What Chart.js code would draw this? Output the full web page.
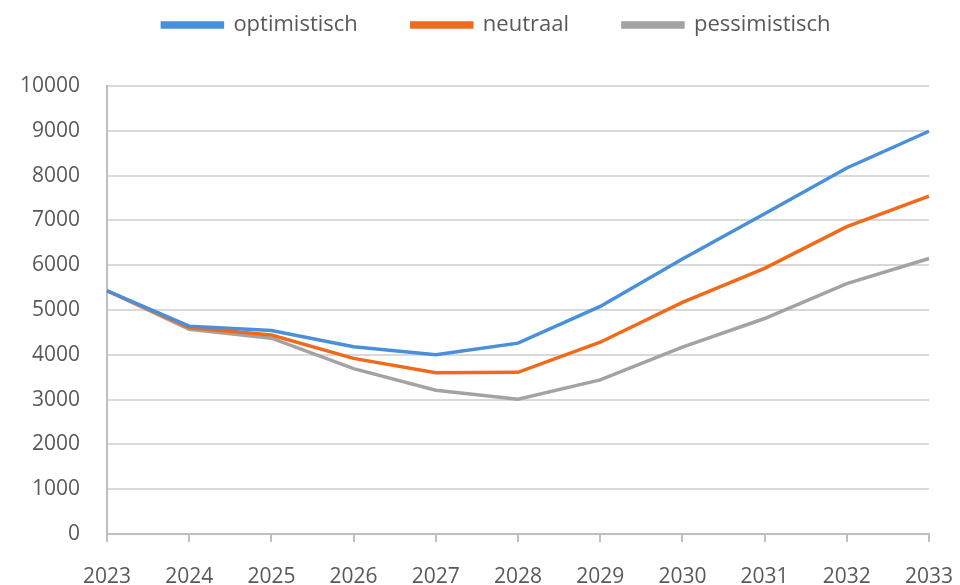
<!DOCTYPE html>
<html>
<head>
<meta charset="utf-8">
<script src="https://cdn.jsdelivr.net/npm/chart.js@4"></script>
<style>
  html, body { margin: 0; padding: 0; background: #fff; }
  #wrap { width: 960px; height: 585px; }
</style>
</head>
<body>
<div id="wrap"><canvas id="lineChart"></canvas></div>
<script>
const years = ["2023", "2024", "2025", "2026", "2027", "2028", "2029", "2030", "2031", "2032", "2033"];
const optimistisch = [5430, 4640, 4540, 4180, 4000, 4260, 5080, 6140, 7150, 8170, 8990];
const neutraal = [5430, 4610, 4440, 3920, 3600, 3610, 4280, 5170, 5930, 6860, 7540];
const pessimistisch = [5430, 4570, 4370, 3690, 3210, 3010, 3440, 4170, 4810, 5590, 6150];

const textColor = "#595959";
const gridColor = "#d9d9d9";

function line(label, data, color) {
    return {
        label: label,
        data: data,
        borderColor: color,
        backgroundColor: color,
        borderWidth: 3.5,
        pointRadius: 0,
        tension: 0,
        fill: false
    };
}

// legend sits above the canvas top (negative padding), its box is made taller
// so the plot starts where the original does, and it is nudged to the right
const legendTop = -40;
const legendShift = 32;
const legendHeight = {
    id: 'legendHeight',
    beforeInit(chart) {
        const fit = chart.legend.fit;
        chart.legend.fit = function () {
            fit.bind(chart.legend)();
            this.height = 86 - legendTop;
        };
    },
    afterLayout(chart) {
        chart.legend.left += legendShift;
        chart.legend.right += legendShift;
    }
};

Chart.defaults.font.family = "'Open Sans', Lato, sans-serif";
Chart.defaults.color = textColor;

new Chart(document.getElementById('lineChart'), {
    type: 'line',
    data: {
        labels: years,
        datasets: [
            line("optimistisch", optimistisch, "#4a8fda"),
            line("neutraal", neutraal, "#f06a1c"),
            line("pessimistisch", pessimistisch, "#a3a3a3")
        ]
    },
    plugins: [legendHeight],
    options: {
        responsive: true,
        maintainAspectRatio: false,
        animation: false,
        layout: { padding: { top: legendTop, right: 31, left: 0, bottom: 0 } },
        plugins: {
            legend: {
                position: 'top',
                labels: {
                    boxWidth: 60,
                    boxHeight: 4,
                    font: { size: 22 },
                    color: textColor,
                    padding: 54
                }
            },
            tooltip: { enabled: false }
        },
        scales: {
            x: {
                offset: false,
                afterFit: function (scale) {
                    scale.height = 51;
                    scale.paddingLeft = 0;
                    scale.paddingRight = 0;
                },
                grid: {
                    display: true,
                    drawOnChartArea: false,
                    drawTicks: true,
                    tickLength: 8,
                    color: "#bfbfbf",
                    lineWidth: 2
                },
                border: { color: "#bfbfbf", width: 2 },
                ticks: {
                    font: { size: 21 },
                    color: textColor,
                    padding: 22,
                    maxRotation: 0,
                    autoSkip: false
                }
            },
            y: {
                min: 0,
                max: 10000,
                afterFit: function (scale) { scale.width = 107; },
                grid: {
                    color: gridColor,
                    lineWidth: 2,
                    drawTicks: false
                },
                border: { color: "#bfbfbf", width: 2 },
                ticks: {
                    stepSize: 1000,
                    font: { size: 21 },
                    color: textColor,
                    padding: 27,
                    callback: function (v) { return String(v); }
                }
            }
        }
    }
});
</script>
</body>
</html>
